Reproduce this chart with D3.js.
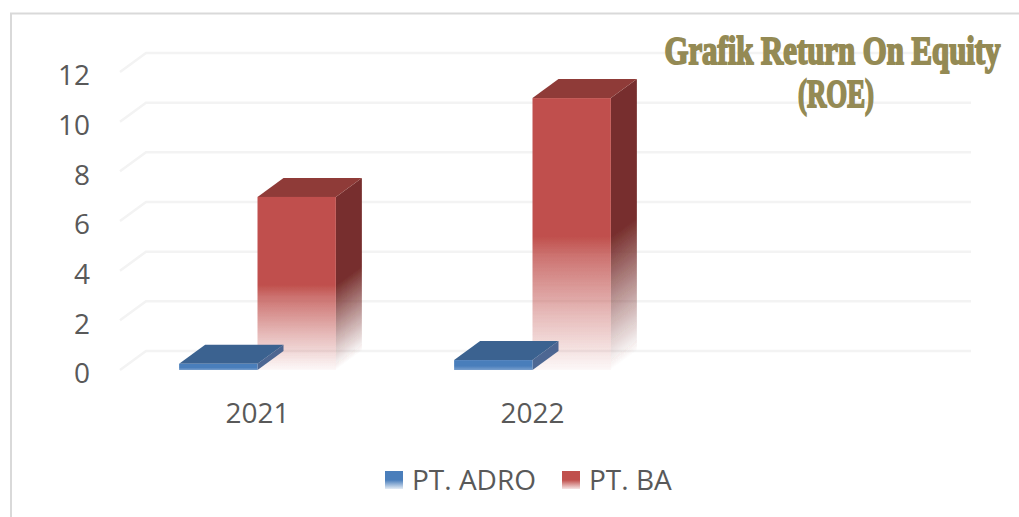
<!DOCTYPE html>
<html>
<head>
<meta charset="utf-8">
<script src="https://cdn.jsdelivr.net/npm/d3@7"></script>
<style>
    html, body { margin: 0; padding: 0; background: #fff; }
    svg { display: block; }
    .tick-label { font-family: "Open Sans", sans-serif; font-size: 28px; fill: #595959; }
</style>
</head>
<body>
<div id="chart"></div>
<script>
const categories = ['2021', '2022', ''];
const seriesNames = ['PT. ADRO', 'PT. BA'];
const adroValues = [0.25, 0.4, null];
const baValues = [6.97, 10.95, null];
const yTicks = [0, 2, 4, 6, 8, 10, 12];
const titleLines = ['Grafik Return On Equity', '(ROE)'];

const width = 1019, height = 517;
const depth = {x: 26, y: -19};

const svg = d3.select('#chart').append('svg').attr('width', width).attr('height', height);
const defs = svg.append('defs');

defs.append('filter').attr('id', 'soft')
    .append('feGaussianBlur').attr('stdDeviation', 0.6);

function addFade(id, color, stops) {
    let g = defs.append('linearGradient').attr('id', id)
        .attr('x1', 0).attr('y1', 0).attr('x2', 0).attr('y2', 1);
    stops.forEach(s => g.append('stop').attr('offset', s[0]).attr('stop-color', color).attr('stop-opacity', s[1]));
}
addFade('redFront', '#c0504d', [[0, 1], [0.51, 1], [0.58, 0.8], [0.8, 0.38], [1, 0.04]]);
addFade('blueFront', '#4a7ebb', [[0, 1], [0.6, 1], [1, 0.75]]);
addFade('legendBlue', '#4a7ebb', [[0, 1], [0.5, 1], [1, 0.15]]);
addFade('legendRed', '#c0504d', [[0, 1], [0.5, 1], [1, 0.15]]);

// frame, open on the right
svg.append('path')
    .attr('d', d3.line()([[11, height], [11, 13.5], [width, 13.5]]))
    .attr('fill', 'none').attr('stroke', '#d9d9d9').attr('stroke-width', 2);

const x = d3.scaleBand().domain(categories).range([120, 945]);
const y = d3.scaleLinear().domain([0, 12]).range([370, 72]);

// back wall gridlines and the slanted bit on the left
let grid = svg.append('g').attr('fill', 'none').attr('stroke', '#f3f3f3').attr('stroke-width', 2.5).attr('filter', 'url(#soft)');
grid.selectAll('path').data(yTicks).enter().append('path')
    .attr('d', d => d3.line()([
        [x.range()[0], y(d)],
        [x.range()[0] + depth.x, y(d) + depth.y],
        [x.range()[1] + depth.x, y(d) + depth.y]
    ]));

let yAxis = d3.axisLeft(y).tickValues(yTicks).tickSize(0).tickPadding(30);
let yG = svg.append('g').attr('transform', 'translate(120,4)').call(yAxis);
yG.select('.domain').remove();
yG.selectAll('text').attr('class', 'tick-label').attr('fill', null);

let xAxis = d3.axisBottom(x).tickSize(0).tickPadding(33);
let xG = svg.append('g').attr('transform', 'translate(0,' + y(0) + ')').call(xAxis);
xG.select('.domain').remove();
xG.selectAll('text').attr('class', 'tick-label').attr('fill', null);

// side fade runs along the slant of the box, so it needs its own gradient per bar
function sideGradient(id, xEdge, value) {
    let yStart = y(value * 0.49), len = 0.807 * (y(0) - yStart);
    let g = defs.append('linearGradient').attr('id', id)
        .attr('gradientUnits', 'userSpaceOnUse')
        .attr('x1', xEdge).attr('y1', yStart)
        .attr('x2', xEdge + 0.59 * len).attr('y2', yStart + 0.807 * len);
    [[0, 1], [0.45, 0.55], [1, 0]].forEach(s =>
        g.append('stop').attr('offset', s[0]).attr('stop-color', '#772f2d').attr('stop-opacity', s[1]));
    return 'url(#' + id + ')';
}

// one box: side, top, front
function drawBar(parent, x0, x1, value, colors) {
    let y0 = y(0), yTop = y(value);
    let g = parent.append('g').attr('filter', 'url(#soft)');
    g.append('path').attr('fill', colors.side).attr('d', d3.line()([
        [x1, yTop], [x1 + depth.x, yTop + depth.y], [x1 + depth.x, y0 + depth.y], [x1, y0]
    ]) + 'Z');
    g.append('path').attr('fill', colors.top).attr('d', d3.line()([
        [x0, yTop], [x0 + depth.x, yTop + depth.y], [x1 + depth.x, yTop + depth.y], [x1, yTop]
    ]) + 'Z');
    g.append('rect').attr('x', x0).attr('y', yTop).attr('width', x1 - x0).attr('height', y0 - yTop)
        .attr('fill', colors.front);
}

let bars = svg.append('g');
let barWidth = x.bandwidth() * 0.285;
categories.forEach((c, i) => {
    if (adroValues[i] == null) return;
    let mid = x(c) + x.bandwidth() / 2;
    drawBar(bars, mid, mid + barWidth, baValues[i],
        {front: 'url(#redFront)', top: '#8f3b38', side: sideGradient('redSide' + i, mid + barWidth, baValues[i])});
    drawBar(bars, mid - barWidth, mid, adroValues[i],
        {front: 'url(#blueFront)', top: '#3a6290', side: 'rgba(58,90,138,0.9)'});
});

// title, stretched upward to get the tall heavy look of the original face
let title = svg.append('g');
title.selectAll('text').data(titleLines).enter().append('text')
    .attr('transform', (d, i) => 'translate(' + (i == 0 ? 832.5 : 836) + ',' + (i == 0 ? 64 : 107) + ') scale(1,1.22)')
    .attr('text-anchor', 'middle')
    .attr('textLength', (d, i) => i == 0 ? 336 : 76)
    .attr('lengthAdjust', 'spacingAndGlyphs')
    .attr('fill', '#948a54')
    .attr('stroke', '#948a54')
    .attr('stroke-width', 1.6)
    .style('font-family', '"Liberation Serif", serif')
    .style('font-weight', 'bold')
    .style('font-size', '32px')
    .text(d => d);

// legend
let legend = svg.append('g');
let legendX = [385, 562];
let legendFill = ['url(#legendBlue)', 'url(#legendRed)'];
seriesNames.forEach((name, i) => {
    legend.append('rect').attr('x', legendX[i]).attr('y', 471).attr('width', 18).attr('height', 18).attr('fill', legendFill[i]);
    legend.append('text').attr('x', legendX[i] + 27).attr('y', 490)
        .attr('class', 'tick-label').text(name);
});
</script>
</body>
</html>
